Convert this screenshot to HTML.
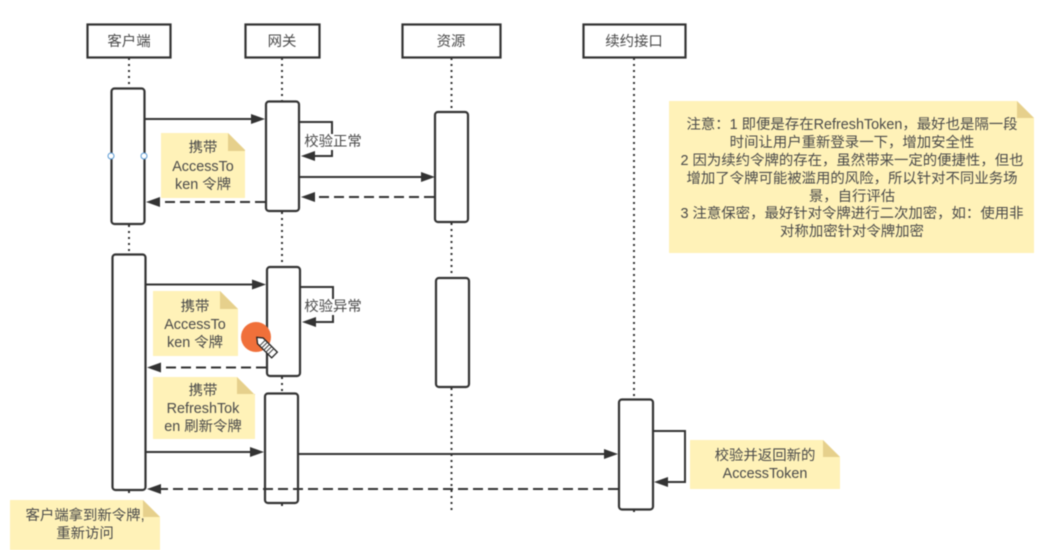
<!DOCTYPE html>
<html><head><meta charset="utf-8"><style>
html,body{margin:0;padding:0;background:#fff}
svg{display:block;filter:blur(.4px)}
text{font-family:"Liberation Sans","Noto Sans CJK SC",sans-serif;font-size:14.4px;fill:#4a4a4a;text-anchor:middle}
.h{fill:#fff;stroke:#333;stroke-width:2.2}
.a{fill:#fff;stroke:#333;stroke-width:2.2}
.l{stroke:#333;stroke-width:2;stroke-dasharray:2 4;fill:none}
.s{stroke:#333;stroke-width:2;fill:none}
.d{stroke:#333;stroke-width:2;fill:none;stroke-dasharray:10 5}
.n{fill:#fff2b8}.f{fill:#e6d08c}.ah{fill:#333}
</style></head><body>
<svg width="1041" height="550" viewBox="0 0 1041 550" xmlns="http://www.w3.org/2000/svg">
<rect width="1041" height="550" fill="#fff"/>
<path class="l" d="M129 58V88M129 225V254M129 491V497M282 58V101M282 212V267M282 377V393M282 504V507M451.500 58V112M451.500 223V278M451.500 388V514M634 58V399M634 510V514"/>
<rect class="h" x="87.500" y="24.500" width="83" height="33"/>
<rect class="h" x="245.500" y="24.500" width="74" height="33"/>
<rect class="h" x="402.500" y="24.500" width="98" height="33"/>
<rect class="h" x="583.500" y="24.500" width="102" height="33"/>
<text x="129" y="46">客户端</text><text x="282" y="46">网关</text><text x="451" y="46">资源</text><text x="634" y="46">续约接口</text>

<path class="n" d="M161 133H228L245 150V198H161Z"/><path class="f" d="M228 133L245 150V151H228Z"/>
<text x="203" y="152">携带</text><text x="203" y="171">AccessTo</text><text x="203" y="189">ken 令牌</text>
<path class="n" d="M153 291H220L238 309V356H153Z"/><path class="f" d="M220 291L238 309H220Z"/>
<text x="195" y="311">携带</text><text x="195" y="329">AccessTo</text><text x="195" y="347">ken 令牌</text>
<path class="n" d="M153 377H237L255 395V439H153Z"/><path class="f" d="M237 377L255 395V394H237Z"/>
<text x="203" y="395">携带</text><text x="203" y="413">RefreshTok</text><text x="203" y="431">en 刷新令牌</text>
<path class="n" d="M10 500H143L160 517V550H10Z"/><path class="f" d="M143 500L160 517H143Z"/>
<text x="85" y="520">客户端拿到新令牌,</text><text x="85" y="538">重新访问</text>
<path class="n" d="M690 440H823L840 457V489H690Z"/><path class="f" d="M823 440L840 457H823Z"/>
<text x="765" y="460">校验并返回新的</text><text x="765" y="478">AccessToken</text>
<path class="n" d="M669 101H1017L1034 118V253H669Z"/><path class="f" d="M1017 101L1034 118H1017Z"/>
<text x="852" y="129">注意：1 即便是存在RefreshToken，最好也是隔一段</text>
<text x="852" y="147">时间让用户重新登录一下，增加安全性</text>
<text x="852" y="165">2 因为续约令牌的存在，虽然带来一定的便捷性，但也</text>
<text x="852" y="183">增加了令牌可能被滥用的风险，所以针对不同业务场</text>
<text x="852" y="201">景，自行评估</text>
<text x="852" y="218">3 注意保密，最好针对令牌进行二次加密，如：使用非</text>
<text x="852" y="236">对称加密针对令牌加密</text>

<rect class="a" x="111.500" y="88.500" width="33" height="135.500" rx="3"/>
<rect class="a" x="112.500" y="254.500" width="33" height="235.500" rx="3"/>
<rect class="a" x="266" y="101.500" width="33" height="109.500" rx="3"/>
<rect class="a" x="267" y="267" width="33" height="109" rx="3"/>
<rect class="a" x="265" y="393.500" width="33" height="109.500" rx="3"/>
<rect class="a" x="435" y="112" width="33" height="110" rx="3"/>
<rect class="a" x="436" y="278" width="33" height="109" rx="3"/>
<rect class="a" x="619" y="399.500" width="34" height="110" rx="3"/>

<path class="s" d="M145 119H252"/><path class="ah" d="M251 114L265 119L251 124Z"/>
<path class="d" d="M265 202H160"/><path class="ah" d="M160 197L146 202L160 207Z"/>
<path class="s" d="M300 122H332V134"/><path class="s" d="M332 150V156H315"/><path class="ah" d="M315 151L301 156L315 161Z"/>
<text x="333" y="146">校验正常</text>
<path class="s" d="M300 177H422"/><path class="ah" d="M421 172L435 177L421 182Z"/>
<path class="d" d="M434 197H316"/><path class="ah" d="M315 192L301 197L315 202Z"/>

<path class="s" d="M146 284.500H253"/><path class="ah" d="M252 279.500L266 284.500L252 289.500Z"/>
<path class="s" d="M301 287H333V299"/><path class="s" d="M333 315V322H316"/><path class="ah" d="M316 317L302 322L316 327Z"/>
<text x="333" y="311">校验异常</text>
<path class="d" d="M266 367.500H161"/><path class="ah" d="M161 362.500L147 367.500L161 372.500Z"/>
<path class="s" d="M146 452H251"/><path class="ah" d="M250 447L264 452L250 457Z"/>
<path class="s" d="M299 454H606"/><path class="ah" d="M604 449L618 454L604 459Z"/>
<path class="d" d="M618 489H161"/><path class="ah" d="M161 484L147 489L161 494Z"/>
<path class="s" d="M654 431H685V482H668"/><path class="ah" d="M668 477L654 482L668 487Z"/>

<circle cx="111" cy="156" r="3" fill="#fff" stroke="#5b9bd5"/>
<circle cx="144" cy="156" r="3" fill="#fff" stroke="#5b9bd5"/>
<circle cx="256" cy="337" r="15" fill="#f0703a"/>
<g transform="translate(266 346.500) rotate(45)"><path d="M-13 0L-8 -4H12V4H-8Z" fill="#fff" stroke="#222" stroke-width="1.300"/><path d="M-5 -4V4M-2 -4V4M1 -4V4M4 -4V4M7 -4V4" stroke="#444" stroke-width="1"/></g>
</svg>
</body></html>
